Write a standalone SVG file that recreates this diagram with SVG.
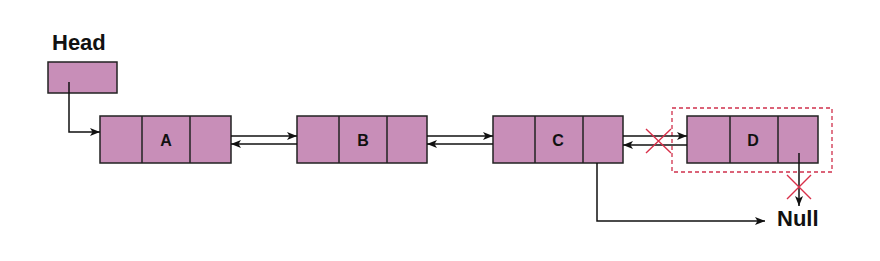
<svg xmlns="http://www.w3.org/2000/svg" width="880" height="261" viewBox="0 0 880 261">
<defs>
<style>
.cell{fill:#c88eb8;stroke:#222;stroke-width:1.5}
.ln{fill:none;stroke:#111;stroke-width:1.5}
.lbl{font-family:"Liberation Sans",Arial,sans-serif;font-weight:bold;font-size:16px;fill:#111;text-anchor:middle}
.big{font-family:"Liberation Sans",Arial,sans-serif;font-weight:bold;font-size:22px;fill:#111}
.x{stroke:#d8304a;stroke-width:1.4;fill:none}
</style>
<marker id="ah" viewBox="0 0 10 10" refX="10" refY="5" markerWidth="10" markerHeight="10" markerUnits="userSpaceOnUse" orient="auto">
<path d="M0,1 L10,5 L0,9 L2.5,5 Z" fill="#111"/>
</marker>
</defs>
<rect width="880" height="261" fill="#fff"/>

<g id="head">
<text class="big" x="52" y="50">Head</text>
<rect class="cell" x="48" y="62" width="69" height="31"/>
</g>

<g id="nodeA">
<rect class="cell" x="100" y="116" width="131" height="47"/>
<line class="cell" x1="142" y1="116" x2="142" y2="163"/>
<line class="cell" x1="190" y1="116" x2="190" y2="163"/>
<text class="lbl" x="166" y="146">A</text>
</g>

<g id="nodeB">
<rect class="cell" x="297" y="116" width="130" height="47"/>
<line class="cell" x1="339" y1="116" x2="339" y2="163"/>
<line class="cell" x1="387" y1="116" x2="387" y2="163"/>
<text class="lbl" x="363" y="146">B</text>
</g>

<g id="nodeC">
<rect class="cell" x="493" y="116" width="130" height="47"/>
<line class="cell" x1="535" y1="116" x2="535" y2="163"/>
<line class="cell" x1="583" y1="116" x2="583" y2="163"/>
<text class="lbl" x="558" y="146">C</text>
</g>

<g id="nodeD">
<rect x="672" y="108" width="160" height="64" fill="none" stroke="#d0304c" stroke-width="1.3" stroke-dasharray="4,3"/>
<rect class="cell" x="687" y="116" width="131" height="47"/>
<line class="cell" x1="730" y1="116" x2="730" y2="163"/>
<line class="cell" x1="778" y1="116" x2="778" y2="163"/>
<text class="lbl" x="753" y="146">D</text>
</g>

<g id="null">
<text class="big" x="777" y="226">Null</text>
</g>

<g id="connectors">
<polyline class="ln" points="69,82 69,132 100,132" marker-end="url(#ah)"/>
<line class="ln" x1="231" y1="136" x2="297" y2="136" marker-end="url(#ah)"/>
<line class="ln" x1="297" y1="144" x2="231" y2="144" marker-end="url(#ah)"/>
<line class="ln" x1="427" y1="136" x2="493" y2="136" marker-end="url(#ah)"/>
<line class="ln" x1="493" y1="144" x2="427" y2="144" marker-end="url(#ah)"/>
<line class="ln" x1="623" y1="136" x2="687" y2="136" marker-end="url(#ah)"/>
<line class="ln" x1="687" y1="145" x2="623" y2="145" marker-end="url(#ah)"/>
<polyline class="ln" points="597,163 597,221 765,221" marker-end="url(#ah)"/>
<line class="ln" x1="799" y1="153" x2="799" y2="206" marker-end="url(#ah)"/>
<path class="x" d="M646,129 L671,153 M671,129 L646,153"/>
<path class="x" d="M787,175 L811,199 M811,175 L787,199"/>
</g>
</svg>
